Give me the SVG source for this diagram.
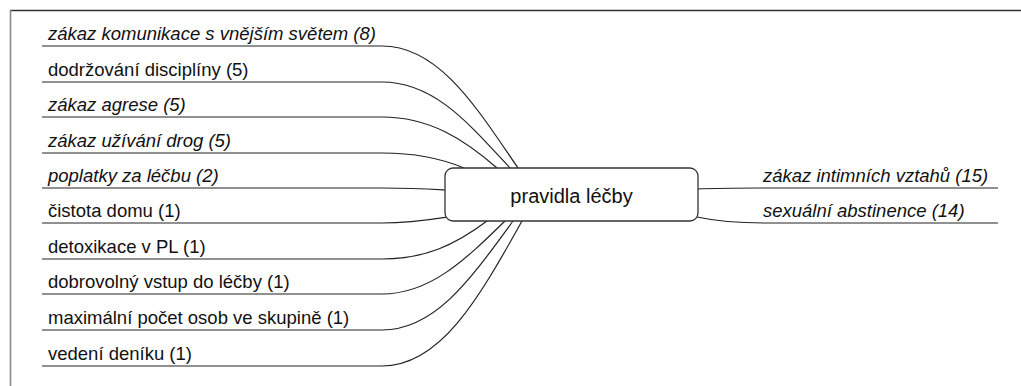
<svg xmlns="http://www.w3.org/2000/svg" width="1021" height="386" viewBox="0 0 1021 386">
<style>
.t{font-family:"Liberation Sans",Arial,Helvetica,sans-serif;font-size:18.5px;fill:#111}
.i{font-style:italic}
.c{font-family:"Liberation Sans",Arial,Helvetica,sans-serif;font-size:20px;fill:#111;text-anchor:middle}
.l{fill:none;stroke:#222;stroke-width:1.2}
.n{fill:#fff;stroke:#333;stroke-width:1.3}
</style>
<rect x="0" y="0" width="1021" height="386" fill="#fff"/>
<line x1="10" y1="10.5" x2="1021" y2="10.5" stroke="#333" stroke-width="1.3"/>
<line x1="10.5" y1="10" x2="10.5" y2="386" stroke="#8a8a8a" stroke-width="1.6"/>
<g id="connectors">
<path class="l" d="M42,46 H382 C440,46 478,110 518,168"/>
<path class="l" d="M42,82 H382 C435,82 470,125 510,168"/>
<path class="l" d="M42,117 H382 C430,117 465,140 497,168"/>
<path class="l" d="M42,153 H382 C420,153 445,160 464,168"/>
<path class="l" d="M42,188 H382 C412,188 428,189 445,190"/>
<path class="l" d="M42,223 H382 C410,223 428,220 447,217"/>
<path class="l" d="M42,259 H382 C425,259 455,245 487,221"/>
<path class="l" d="M42,294 H382 C430,294 465,260 505,221"/>
<path class="l" d="M42,330 H382 C435,330 470,280 513,221"/>
<path class="l" d="M42,366 H382 C440,366 478,300 522,221"/>
<path class="l" d="M697,189 C720,188 740,188 760,188 H998"/>
<path class="l" d="M697,217 C720,222 740,223 765,223 H998"/>
</g>
<g id="center">
<rect class="n" x="445" y="168" width="253" height="53" rx="8"/>
<text class="c" x="571.5" y="203">pravidla léčby</text>
</g>
<g id="n1"><text class="t i" x="48" y="40">zákaz komunikace s vnějším světem (8)</text></g>
<g id="n2"><text class="t" x="48" y="76">dodržování disciplíny (5)</text></g>
<g id="n3"><text class="t i" x="48" y="111">zákaz agrese (5)</text></g>
<g id="n4"><text class="t i" x="48" y="147">zákaz užívání drog (5)</text></g>
<g id="n5"><text class="t i" x="48" y="182">poplatky za léčbu (2)</text></g>
<g id="n6"><text class="t" x="48" y="217">čistota domu (1)</text></g>
<g id="n7"><text class="t" x="48" y="253">detoxikace v PL (1)</text></g>
<g id="n8"><text class="t" x="48" y="288">dobrovolný vstup do léčby (1)</text></g>
<g id="n9"><text class="t" x="48" y="324">maximální počet osob ve skupině (1)</text></g>
<g id="n10"><text class="t" x="48" y="360">vedení deníku (1)</text></g>
<g id="r1"><text class="t i" x="763" y="182">zákaz intimních vztahů (15)</text></g>
<g id="r2"><text class="t i" x="763" y="217">sexuální abstinence (14)</text></g>
</svg>
